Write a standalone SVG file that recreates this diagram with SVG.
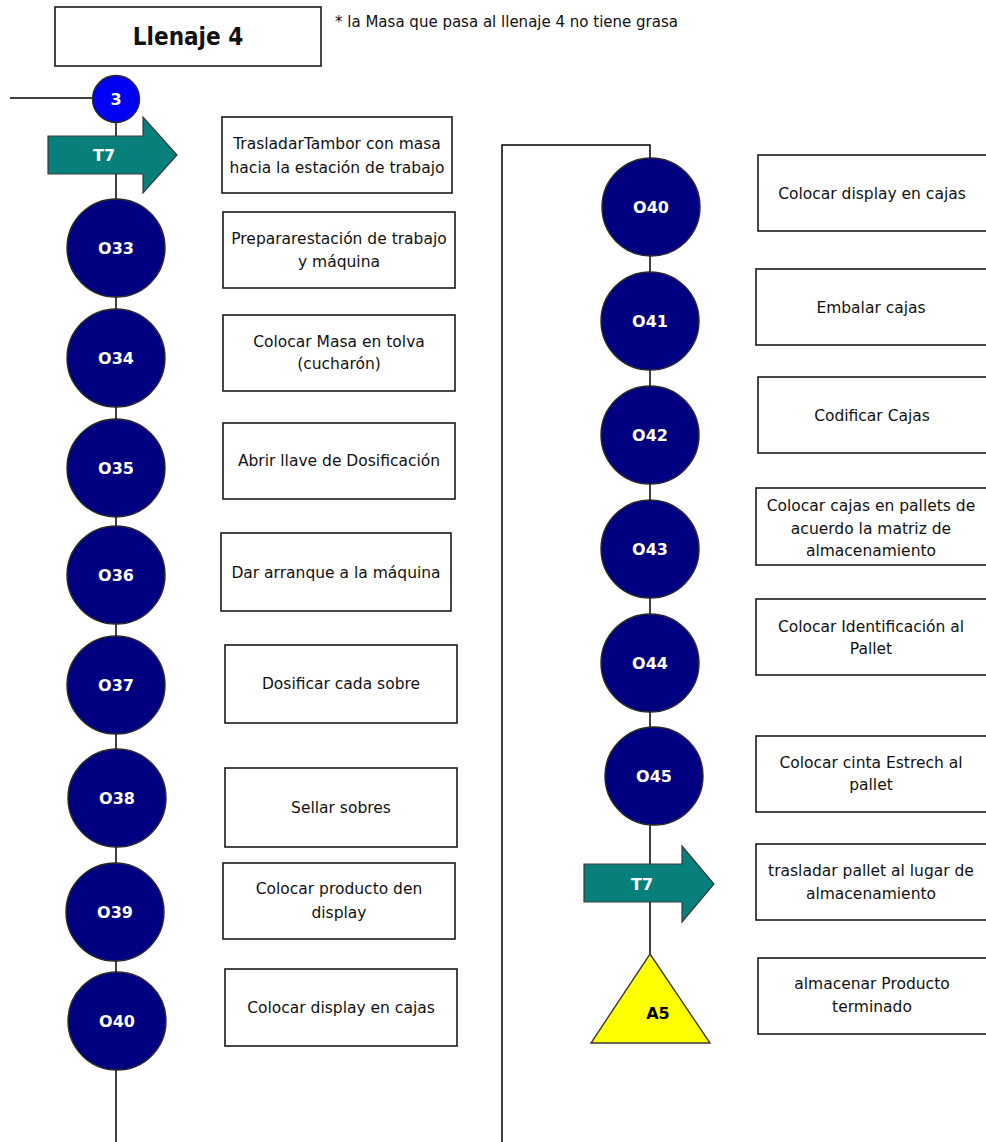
<svg xmlns="http://www.w3.org/2000/svg" width="986" height="1142" viewBox="0 0 986 1142">
  <style>
    .box { fill: #ffffff; stroke: #1a1a1a; stroke-width: 1.6; }
    .txt { font-family: "DejaVu Sans", "Liberation Sans", sans-serif; font-size: 15.5px; fill: #111111; text-anchor: middle; }
    .op { fill: #000080; stroke: #2a2a2a; stroke-width: 1.4; }
    .oplbl { font-family: "DejaVu Sans", "Liberation Sans", sans-serif; font-size: 16px; font-weight: bold; fill: #ffffff; text-anchor: middle; }
    .move { fill: #07807c; stroke: #3a3a3a; stroke-width: 1.2; }
    .store { fill: #ffff00; stroke: #3a3a3a; stroke-width: 1.4; }
    .wire { fill: none; stroke: #000000; stroke-width: 1.5; }
  </style>

  <!-- title -->
  <g id="title">
    <rect class="box" x="55" y="7" width="266" height="59"/>
    <text x="188" y="45" font-family="'DejaVu Sans Condensed', 'DejaVu Sans', sans-serif" font-stretch="condensed" font-size="24px" font-weight="bold" fill="#111" text-anchor="middle">Llenaje 4</text>
  </g>
  <g id="note">
    <text x="335" y="27" font-family="'DejaVu Sans', 'Liberation Sans', sans-serif" font-size="15px" fill="#111" textLength="343" lengthAdjust="spacing">* la Masa que pasa al llenaje 4 no tiene grasa</text>
  </g>

  <!-- connectors -->
  <g id="connectors">
    <line class="wire" x1="10" y1="98" x2="93" y2="98"/>
    <line class="wire" x1="116" y1="120" x2="116" y2="1142"/>
    <polyline class="wire" points="502,1142 502,145 650,145 650,160"/>
    <line class="wire" x1="650" y1="160" x2="650" y2="955"/>
  </g>

  <!-- left column -->
  <g id="n3">
    <circle cx="116" cy="99" r="23.5" fill="#0000f5" stroke="#2a2a2a" stroke-width="1.4"/>
    <text class="oplbl" x="116" y="105">3</text>
  </g>
  <g id="t7a">
    <polygon class="move" points="48,136 143,136 143,117 177,155 143,193 143,174 48,174"/>
    <text class="oplbl" x="104" y="161">T7</text>
  </g>
  <g id="t7a-desc">
    <rect class="box" x="222" y="117" width="230" height="76"/>
    <text class="txt" x="337" y="148.5">TrasladarTambor con masa</text>
    <text class="txt" x="337" y="172.5">hacia la estación de trabajo</text>
  </g>

  <g id="o33">
    <circle class="op" cx="116" cy="248" r="49"/>
    <text class="oplbl" x="116" y="254">O33</text>
  </g>
  <g id="o33-desc">
    <rect class="box" x="223" y="212" width="232" height="76"/>
    <text class="txt" x="339" y="243.5">Prepararestación de trabajo</text>
    <text class="txt" x="339" y="266.5">y máquina</text>
  </g>

  <g id="o34">
    <circle class="op" cx="116" cy="358" r="49"/>
    <text class="oplbl" x="116" y="364">O34</text>
  </g>
  <g id="o34-desc">
    <rect class="box" x="223" y="315" width="232" height="76"/>
    <text class="txt" x="339" y="346.5">Colocar Masa en tolva</text>
    <text class="txt" x="339" y="368.5">(cucharón)</text>
  </g>

  <g id="o35">
    <circle class="op" cx="116" cy="468" r="49"/>
    <text class="oplbl" x="116" y="474">O35</text>
  </g>
  <g id="o35-desc">
    <rect class="box" x="223" y="423" width="232" height="76"/>
    <text class="txt" x="339" y="465.5">Abrir llave de Dosificación</text>
  </g>

  <g id="o36">
    <circle class="op" cx="116" cy="575" r="49"/>
    <text class="oplbl" x="116" y="581">O36</text>
  </g>
  <g id="o36-desc">
    <rect class="box" x="221" y="533" width="230" height="78"/>
    <text class="txt" x="336" y="577.5">Dar arranque a la máquina</text>
  </g>

  <g id="o37">
    <circle class="op" cx="116" cy="685" r="49"/>
    <text class="oplbl" x="116" y="691">O37</text>
  </g>
  <g id="o37-desc">
    <rect class="box" x="225" y="645" width="232" height="78"/>
    <text class="txt" x="341" y="688.5">Dosificar cada sobre</text>
  </g>

  <g id="o38">
    <circle class="op" cx="117" cy="798" r="49"/>
    <text class="oplbl" x="117" y="804">O38</text>
  </g>
  <g id="o38-desc">
    <rect class="box" x="225" y="768" width="232" height="79"/>
    <text class="txt" x="341" y="812.5">Sellar sobres</text>
  </g>

  <g id="o39">
    <circle class="op" cx="115" cy="912" r="49"/>
    <text class="oplbl" x="115" y="918">O39</text>
  </g>
  <g id="o39-desc">
    <rect class="box" x="223" y="863" width="232" height="76"/>
    <text class="txt" x="339" y="893.5">Colocar producto den</text>
    <text class="txt" x="339" y="917.5">display</text>
  </g>

  <g id="o40a">
    <circle class="op" cx="117" cy="1021" r="49"/>
    <text class="oplbl" x="117" y="1027">O40</text>
  </g>
  <g id="o40a-desc">
    <rect class="box" x="225" y="969" width="232" height="77"/>
    <text class="txt" x="341" y="1012.5">Colocar display en cajas</text>
  </g>

  <!-- right column -->
  <g id="o40b">
    <circle class="op" cx="651" cy="207" r="49"/>
    <text class="oplbl" x="651" y="213">O40</text>
  </g>
  <g id="o40b-desc">
    <rect class="box" x="758" y="155" width="232" height="76"/>
    <text class="txt" x="872" y="198.5">Colocar display en cajas</text>
  </g>

  <g id="o41">
    <circle class="op" cx="650" cy="321" r="49"/>
    <text class="oplbl" x="650" y="327">O41</text>
  </g>
  <g id="o41-desc">
    <rect class="box" x="756" y="269" width="234" height="76"/>
    <text class="txt" x="871" y="312.5">Embalar cajas</text>
  </g>

  <g id="o42">
    <circle class="op" cx="650" cy="435" r="49"/>
    <text class="oplbl" x="650" y="441">O42</text>
  </g>
  <g id="o42-desc">
    <rect class="box" x="758" y="377" width="232" height="76"/>
    <text class="txt" x="872" y="420.5">Codificar Cajas</text>
  </g>

  <g id="o43">
    <circle class="op" cx="650" cy="549" r="49"/>
    <text class="oplbl" x="650" y="555">O43</text>
  </g>
  <g id="o43-desc">
    <rect class="box" x="756" y="488" width="234" height="77"/>
    <text class="txt" x="871" y="510.5">Colocar cajas en pallets de</text>
    <text class="txt" x="871" y="533.5">acuerdo la matriz de</text>
    <text class="txt" x="871" y="555.5">almacenamiento</text>
  </g>

  <g id="o44">
    <circle class="op" cx="650" cy="663" r="49"/>
    <text class="oplbl" x="650" y="669">O44</text>
  </g>
  <g id="o44-desc">
    <rect class="box" x="756" y="599" width="234" height="76"/>
    <text class="txt" x="871" y="631.5">Colocar Identificación al</text>
    <text class="txt" x="871" y="653.5">Pallet</text>
  </g>

  <g id="o45">
    <circle class="op" cx="654" cy="776" r="49"/>
    <text class="oplbl" x="654" y="782">O45</text>
  </g>
  <g id="o45-desc">
    <rect class="box" x="756" y="736" width="234" height="76"/>
    <text class="txt" x="871" y="767.5">Colocar cinta Estrech al</text>
    <text class="txt" x="871" y="789.5">pallet</text>
  </g>

  <g id="t7b">
    <polygon class="move" points="584,864 682,864 682,846 714,884 682,922 682,902 584,902"/>
    <text class="oplbl" x="642" y="890">T7</text>
  </g>
  <g id="t7b-desc">
    <rect class="box" x="756" y="844" width="234" height="76"/>
    <text class="txt" x="871" y="875.5">trasladar pallet al lugar de</text>
    <text class="txt" x="871" y="898.5">almacenamiento</text>
  </g>

  <g id="a5">
    <polygon class="store" points="650,954 710,1043 591,1043"/>
    <text x="658" y="1019" font-family="'DejaVu Sans', 'Liberation Sans', sans-serif" font-size="16px" font-weight="bold" fill="#000" text-anchor="middle">A5</text>
  </g>
  <g id="a5-desc">
    <rect class="box" x="758" y="958" width="232" height="76"/>
    <text class="txt" x="872" y="988.5">almacenar Producto</text>
    <text class="txt" x="872" y="1011.5">terminado</text>
  </g>
</svg>
